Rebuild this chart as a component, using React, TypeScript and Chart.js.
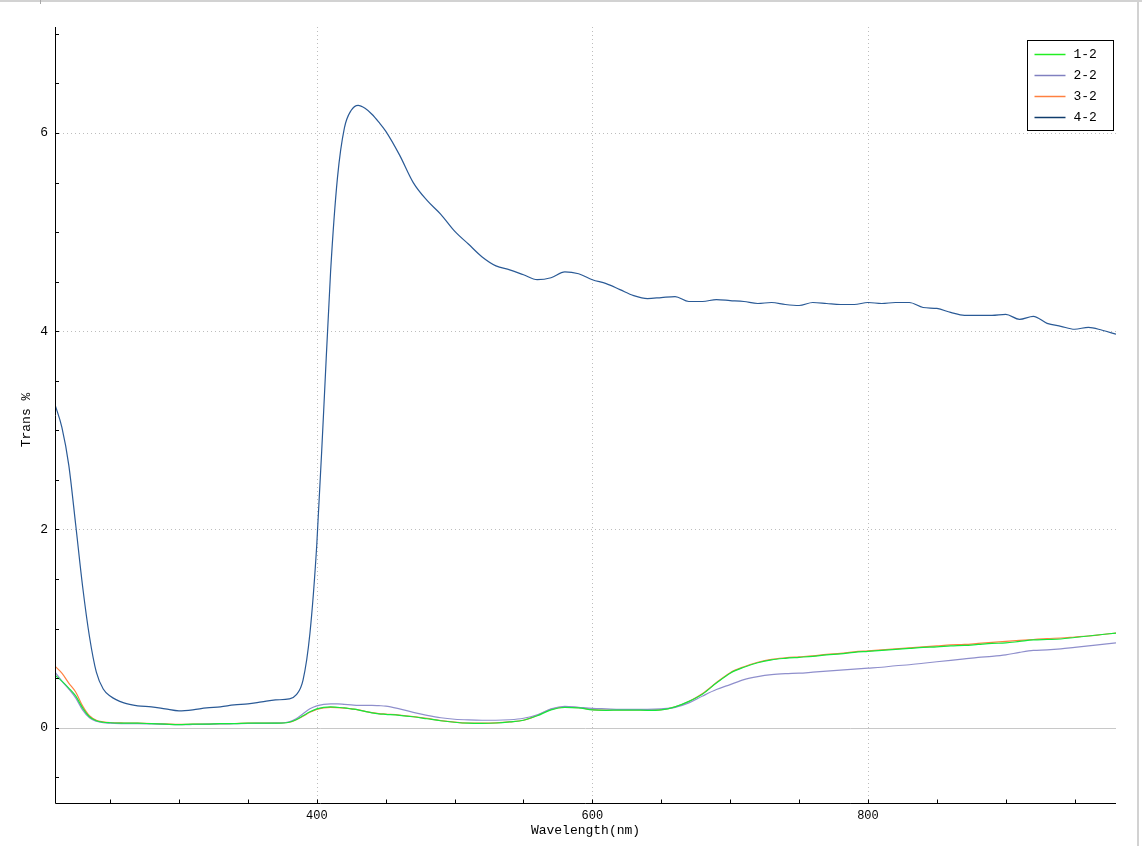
import React, { useEffect, useRef } from 'react';
import { Chart, registerables } from 'chart.js';

Chart.register(...registerables);

// ---- data ----
const wavelengths = [
  210, 215, 220, 225, 230, 235, 240, 245, 250,
  260, 270, 280, 290, 300, 310, 320, 330, 340, 350, 360, 370, 380,
  385, 390, 395, 400, 405, 410, 415, 420, 425, 430, 435, 440, 445, 450,
  460, 470, 480, 490, 500, 510, 520, 530, 540, 550,
  560, 570, 580, 590, 600, 610, 620, 630, 640, 650,
  660, 670, 680, 690, 700, 710, 720, 730, 740, 750,
  760, 770, 780, 790, 800, 810, 820, 830, 840, 850,
  860, 870, 880, 890, 900, 910, 920, 930, 940, 950,
  960, 970, 980,
];

const series12 = [
  0.53, 0.47, 0.40, 0.32, 0.20, 0.11, 0.07, 0.055, 0.05,
  0.045, 0.045, 0.04, 0.035, 0.03, 0.035, 0.035, 0.04, 0.04, 0.045, 0.045, 0.045, 0.055,
  0.08, 0.12, 0.16, 0.19, 0.205, 0.21, 0.205, 0.20, 0.19, 0.18, 0.165, 0.15, 0.14, 0.135,
  0.125, 0.11, 0.09, 0.07, 0.055, 0.045, 0.043, 0.047, 0.058, 0.075,
  0.12, 0.18, 0.205, 0.20, 0.18, 0.175, 0.178, 0.178, 0.175, 0.18,
  0.21, 0.265, 0.34, 0.45, 0.55, 0.61, 0.655, 0.685, 0.70, 0.71,
  0.72, 0.735, 0.745, 0.76, 0.77, 0.78, 0.79, 0.80, 0.81, 0.815,
  0.825, 0.83, 0.84, 0.85, 0.855, 0.87, 0.885, 0.89, 0.895, 0.91,
  0.925, 0.94, 0.955,
];

const series22 = [
  0.56, 0.47, 0.39, 0.30, 0.18, 0.10, 0.065, 0.05, 0.045,
  0.04, 0.04, 0.037, 0.033, 0.03, 0.032, 0.035, 0.038, 0.04, 0.042, 0.043, 0.045, 0.06,
  0.09, 0.14, 0.19, 0.22, 0.235, 0.24, 0.24, 0.235, 0.23, 0.225, 0.225, 0.225, 0.222, 0.218,
  0.19, 0.155, 0.125, 0.10, 0.085, 0.078, 0.075, 0.075, 0.08, 0.095,
  0.13, 0.19, 0.215, 0.205, 0.195, 0.19, 0.185, 0.185, 0.185, 0.19,
  0.205, 0.25, 0.32, 0.385, 0.435, 0.485, 0.515, 0.535, 0.545, 0.55,
  0.56, 0.57, 0.58, 0.59, 0.60, 0.61, 0.625, 0.635, 0.65, 0.665,
  0.68, 0.695, 0.71, 0.72, 0.735, 0.76, 0.78, 0.785, 0.795, 0.81,
  0.825, 0.84, 0.855,
];

const series32 = [
  0.62, 0.55, 0.45, 0.36, 0.22, 0.12, 0.075, 0.06, 0.052,
  0.047, 0.045, 0.042, 0.038, 0.033, 0.035, 0.037, 0.04, 0.042, 0.045, 0.046, 0.047, 0.055,
  0.08, 0.115, 0.155, 0.185, 0.20, 0.205, 0.203, 0.198, 0.19, 0.18, 0.165, 0.152, 0.142, 0.137,
  0.127, 0.112, 0.093, 0.072, 0.057, 0.047, 0.045, 0.048, 0.058, 0.075,
  0.125, 0.185, 0.208, 0.202, 0.183, 0.177, 0.18, 0.18, 0.177, 0.182,
  0.21, 0.265, 0.345, 0.455, 0.555, 0.615, 0.66, 0.69, 0.705, 0.715,
  0.725, 0.74, 0.75, 0.765, 0.775, 0.785, 0.795, 0.805, 0.815, 0.825,
  0.835, 0.84, 0.85, 0.86, 0.87, 0.88, 0.89, 0.90, 0.905, 0.915,
  0.925, 0.94, 0.955,
];

const series42 = [
  3.26, 3.03, 2.65, 2.05, 1.43, 0.92, 0.56, 0.39, 0.32,
  0.25, 0.22, 0.21, 0.19, 0.17, 0.18, 0.20, 0.21, 0.23, 0.24, 0.26, 0.28, 0.29,
  0.33, 0.48, 0.95, 1.85, 3.2, 4.6, 5.55, 6.05, 6.23, 6.28, 6.25, 6.19, 6.11, 6.02,
  5.78, 5.50, 5.32, 5.18, 5.01, 4.88, 4.75, 4.66, 4.62, 4.57,
  4.52, 4.54, 4.60, 4.58, 4.52, 4.48, 4.42, 4.36, 4.33, 4.34,
  4.35, 4.30, 4.30, 4.32, 4.31, 4.30, 4.28, 4.29, 4.27, 4.26,
  4.29, 4.28, 4.27, 4.27, 4.29, 4.28, 4.29, 4.29, 4.24, 4.23,
  4.19, 4.16, 4.16, 4.16, 4.17, 4.12, 4.15, 4.08, 4.05, 4.02,
  4.04, 4.01, 3.97,
];

const seriesLabels = ['1-2', '2-2', '3-2', '4-2'];
const seriesColors = ['#14e83c', '#8f8fcc', '#ff8040', '#2a5a96'];
const legendColors = ['#22ee22', '#8080c0', '#ff8040', '#103c6c'];

const xTickValues = [400, 600, 800];
const yTickValues = [0, 2, 4, 6];
const xTitle = 'Wavelength(nm)';
const yTitle = 'Trans %';

const FONT = '"Liberation Mono", "DejaVu Sans Mono", monospace';

const decorPlugin = {
  id: 'decor',
  beforeDatasetsDraw(chart: any) {
    const { ctx, chartArea, scales } = chart;
    const { left, right, top, bottom } = chartArea;
    const x = scales.x;
    const y = scales.y;
    ctx.save();
    ctx.lineWidth = 1;
    ctx.strokeStyle = '#bdbdbd';
    ctx.setLineDash([1, 3]);
    xTickValues.forEach((v) => {
      const px = Math.round(x.getPixelForValue(v)) + 0.5;
      ctx.beginPath();
      ctx.moveTo(px, top);
      ctx.lineTo(px, bottom);
      ctx.stroke();
    });
    yTickValues.filter((v) => v !== 0).forEach((v) => {
      const py = Math.round(y.getPixelForValue(v)) + 0.5;
      ctx.beginPath();
      ctx.moveTo(left, py);
      ctx.lineTo(right, py);
      ctx.stroke();
    });
    ctx.setLineDash([]);
    ctx.strokeStyle = '#c8c8c8';
    const p0 = Math.round(y.getPixelForValue(0)) + 0.5;
    ctx.beginPath();
    ctx.moveTo(left, p0);
    ctx.lineTo(right, p0);
    ctx.stroke();
    ctx.restore();
  },
  afterDraw(chart: any) {
    const { ctx, chartArea, scales, width, height } = chart;
    const { left, right, top, bottom } = chartArea;
    const x = scales.x;
    const y = scales.y;
    ctx.save();
    // window frame
    ctx.fillStyle = '#d2d2d2';
    ctx.fillRect(0, 0, width, 2);
    ctx.fillRect(width - 5, 0, 2, height);
    ctx.fillStyle = '#a8a8a8';
    ctx.fillRect(40, 0, 1, 4);

    // axes
    ctx.strokeStyle = '#000';
    ctx.lineWidth = 1;
    const ax = Math.round(left) + 0.5;
    const ay = Math.round(bottom) + 0.5;
    ctx.beginPath();
    ctx.moveTo(ax, top);
    ctx.lineTo(ax, ay);
    ctx.lineTo(right, ay);
    ctx.stroke();

    // tick marks (inside)
    for (let v = 250; v <= 980; v += 50) {
      const px = Math.round(x.getPixelForValue(v)) + 0.5;
      ctx.beginPath();
      ctx.moveTo(px, ay);
      ctx.lineTo(px, ay - 4);
      ctx.stroke();
    }
    for (let v = -0.5; v <= 7.0001; v += 0.5) {
      const py = Math.round(y.getPixelForValue(v)) + 0.5;
      ctx.beginPath();
      ctx.moveTo(ax, py);
      ctx.lineTo(ax + 3.5, py);
      ctx.stroke();
    }

    // titles
    ctx.fillStyle = '#000';
    ctx.font = '13px ' + FONT;
    ctx.textAlign = 'center';
    ctx.textBaseline = 'middle';
    ctx.fillText(xTitle, (left + right) / 2, 831);
    ctx.save();
    ctx.translate(27, (top + bottom) / 2 + 5);
    ctx.rotate(-Math.PI / 2);
    ctx.fillText(yTitle, 0, 0);
    ctx.restore();

    // legend
    const bw = 86;
    const bh = 90;
    const bx = Math.round(right) - bw - 2.5;
    const by = 40.5;
    ctx.fillStyle = '#fff';
    ctx.fillRect(bx, by, bw, bh);
    ctx.strokeStyle = '#000';
    ctx.lineWidth = 1;
    ctx.strokeRect(bx, by, bw, bh);
    ctx.textAlign = 'left';
    ctx.font = '13px ' + FONT;
    seriesLabels.forEach((lab, i) => {
      const ly = Math.round(by + 13 + i * 21.2) + 0.5;
      ctx.strokeStyle = legendColors[i];
      ctx.lineWidth = 1.5;
      ctx.beginPath();
      ctx.moveTo(bx + 7, ly);
      ctx.lineTo(bx + 38, ly);
      ctx.stroke();
      ctx.fillStyle = '#000';
      ctx.fillText(lab, bx + 46, ly);
    });
    ctx.restore();
  },
};

export default function App() {
  const ref = useRef<HTMLCanvasElement | null>(null);

  useEffect(() => {
    document.body.style.margin = '0';
    const canvas = ref.current;
    if (!canvas) return;
    const allSeries = [series12, series22, series32, series42];
    const chart = new Chart(canvas, {
      type: 'line',
      data: {
        datasets: allSeries.map((s, i) => ({
          label: seriesLabels[i],
          data: wavelengths.map((w, j) => ({ x: w, y: s[j] })),
          borderColor: seriesColors[i],
          backgroundColor: seriesColors[i],
          borderWidth: 1.2,
          pointRadius: 0,
          fill: false,
          cubicInterpolationMode: 'monotone' as const,
        })),
      },
      options: {
        responsive: false,
        animation: false,
        events: [],
        layout: { padding: { top: 27, right: 26, bottom: 0, left: 0 } },
        plugins: {
          legend: { display: false },
          tooltip: { enabled: false },
          title: { display: false },
        },
        scales: {
          x: {
            type: 'linear',
            min: 210,
            max: 980,
            afterBuildTicks: (scale: any) => {
              scale.ticks = xTickValues.map((v) => ({ value: v }));
            },
            afterFit: (scale: any) => {
              scale.height = 43;
            },
            grid: { display: false, drawTicks: false },
            border: { display: false },
            ticks: {
              color: '#000',
              font: { family: FONT, size: 12 },
              padding: 6,
              maxRotation: 0,
              autoSkip: false,
            },
          },
          y: {
            type: 'linear',
            min: -0.76,
            max: 7.07,
            afterBuildTicks: (scale: any) => {
              scale.ticks = yTickValues.map((v) => ({ value: v }));
            },
            afterFit: (scale: any) => {
              scale.width = 55;
            },
            grid: { display: false, drawTicks: false },
            border: { display: false },
            ticks: {
              color: '#000',
              font: { family: FONT, size: 13 },
              padding: 7,
              autoSkip: false,
            },
          },
        },
      },
      plugins: [decorPlugin],
    });
    return () => chart.destroy();
  }, []);

  return (
    <div style={{ position: 'absolute', left: 0, top: 0, width: 1142, height: 846, background: '#fff' }}>
      <canvas ref={ref} width={1142} height={846} style={{ display: 'block' }} />
    </div>
  );
}
